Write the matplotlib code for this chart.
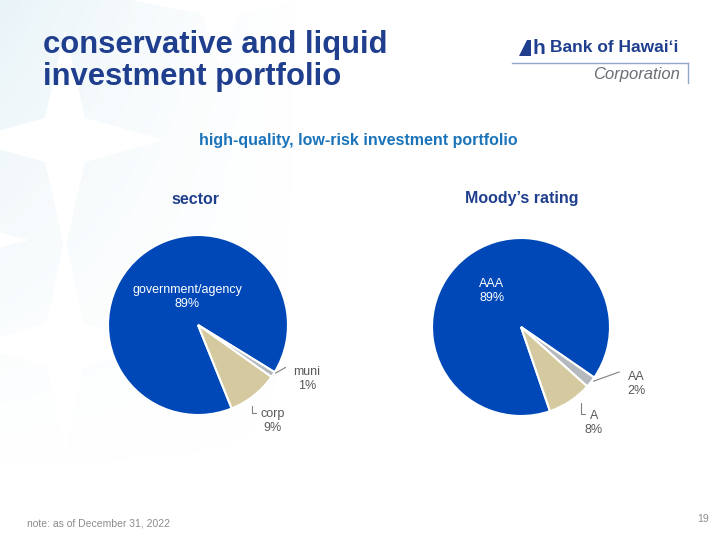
import numpy as np
import matplotlib.pyplot as plt
from matplotlib.patches import Polygon

plt.rcParams['font.family'] = ['Liberation Sans', 'DejaVu Sans']

sector_labels = ['government/agency', 'muni', 'corp']
sector_values = [89, 1, 9]
rating_labels = ['AAA', 'AA', 'A']
rating_values = [89, 2, 8]

BLUE = '#0048B8'
TAN = '#D5CA9F'
GREY = '#B3B9BC'
NAVY = '#1F3F8E'
colors = [BLUE, GREY, TAN]

W, H = 720, 540
fig = plt.figure(figsize=(7.2, 5.4), dpi=100)


def fx(x):
    return x / W


def fy(y):
    return 1 - y / H


# faint pale-blue pattern on the left, white four-point stars cut into it
bg = fig.add_axes([0, 0, 1, 1])
gx, gy = np.meshgrid(np.linspace(0, 320, 160), np.linspace(0, 540, 270))
fade = np.clip(1 - gy / 470, 0, 1) ** 1.2 * np.clip(1 - gx / 300, 0, 1) ** 1.3
img = np.zeros(gx.shape + (4,))
img[..., 0], img[..., 1], img[..., 2] = 0.90, 0.95, 0.97
img[..., 3] = 0.85 * fade
bg.imshow(img, extent=(0, 320, 540, 0), zorder=0, interpolation='bilinear')
for cx, cy, ax_len, ay_len in [(65, 140, 100, 110), (220, 0, 90, 70), (65, 345, 90, 110),
                               (-30, 240, 60, 60)]:
    wst = 0.2
    pts = [(cx + ax_len, cy), (cx + wst * ax_len, cy + wst * ay_len),
           (cx, cy + ay_len), (cx - wst * ax_len, cy + wst * ay_len),
           (cx - ax_len, cy), (cx - wst * ax_len, cy - wst * ay_len),
           (cx, cy - ay_len), (cx + wst * ax_len, cy - wst * ay_len)]
    bg.add_patch(Polygon(pts, closed=True, fc='white', ec='none', zorder=1))
bg.set_xlim(0, W)
bg.set_ylim(H, 0)
bg.axis('off')

# title
fig.text(fx(43), fy(53), 'conservative and liquid', fontsize=22.3,
         fontweight='bold', color=NAVY, va='baseline', ha='left')
fig.text(fx(43), fy(85), 'investment portfolio', fontsize=22.3,
         fontweight='bold', color=NAVY, va='baseline', ha='left')

# logo
bg.add_patch(Polygon([(519, 56), (527, 40), (531, 40), (531, 56)], closed=True, fc=NAVY, ec='none'))
fig.text(fx(532), fy(48), 'h', fontsize=15, fontweight='bold', color=NAVY, va='center', ha='left')
fig.text(fx(550), fy(48), 'Bank of Hawai\u02bbi', fontsize=12.5, fontweight='bold', color=NAVY,
         va='center', ha='left')
bg.plot([512, 688], [63, 63], color='#8FA6C9', lw=1)
bg.plot([688, 688], [63, 83], color='#8FA6C9', lw=1)
fig.text(fx(680), fy(74), 'Corporation', fontsize=12, style='italic', color='#6B6F73',
         va='center', ha='right')

fig.text(fx(358), fy(140), 'high-quality, low-risk investment portfolio', fontsize=11.5,
         fontweight='bold', color='#1B74BA', ha='center', va='center')
fig.text(fx(195), fy(200), 'sector', fontsize=11.5, fontweight='bold', color=NAVY,
         ha='center', va='center')
fig.text(fx(522), fy(198), 'Moody\u2019s rating', fontsize=11.5, fontweight='bold', color=NAVY,
         ha='center', va='center')


def draw_pie(cx, cy, r, labels, values, start, inner, out_pos):
    ax = fig.add_axes([fx(cx - r), fy(cy + r), 2 * r / W, 2 * r / H])
    wedges, _ = ax.pie(values, colors=colors, startangle=start, counterclock=False,
                       radius=1, wedgeprops=dict(edgecolor='white', linewidth=1.5))
    ax.set_xlim(-1, 1)
    ax.set_ylim(-1, 1)
    ax.set_aspect('equal')
    ax.axis('off')
    # big slice label
    fig.text(fx(cx + inner[0]), fy(cy + inner[1]), f'{labels[0]}\n{values[0]}%', color='white',
             fontsize=9, ha='center', va='center', linespacing=1.3)
    # small slices: leader line from the wedge edge, label outside
    for i, (kind, frac, lx, ly, tx, ty) in out_pos.items():
        w = wedges[i]
        ang = np.deg2rad(w.theta2 - frac * (w.theta2 - w.theta1))
        if kind == 'diag':
            edge = (1.0 * np.cos(ang), 1.0 * np.sin(ang))
            style = dict(arrowstyle='-', color='#808080', lw=0.8)
        else:
            edge = (1.06 * np.cos(ang), 1.06 * np.sin(ang))
            style = dict(arrowstyle='-', color='#808080', lw=0.8,
                         connectionstyle='angle,angleA=0,angleB=90,rad=0')
        ax.annotate('', xy=edge, xytext=(lx / r, -ly / r), arrowprops=style)
        ax.text(tx / r, -ty / r, f'{labels[i]}\n{values[i]}%', color='#595959',
                fontsize=9, ha='center', va='center', linespacing=1.3, clip_on=False)


draw_pie(198, 325, 90, sector_labels, sector_values, -68, (-11, -28),
         {1: ('diag', 0.5, 90, 41, 109, 54), 2: ('angle', 0.62, 61, 88, 75, 96)})
draw_pie(521, 327, 89, rating_labels, rating_values, -71, (-29, -36),
         {1: ('diag', 0.5, 101, 44, 115, 57), 2: ('angle', 0.3, 67, 87, 73, 96)})

fig.text(fx(27), fy(524), 'note: as of December 31, 2022', fontsize=7.5, color='#8C8C8C',
         ha='left', va='center')
fig.text(fx(703), fy(519), '19', fontsize=7.5, color='#8C8C8C', ha='center', va='center')

fig.savefig('out.png', dpi=100)
